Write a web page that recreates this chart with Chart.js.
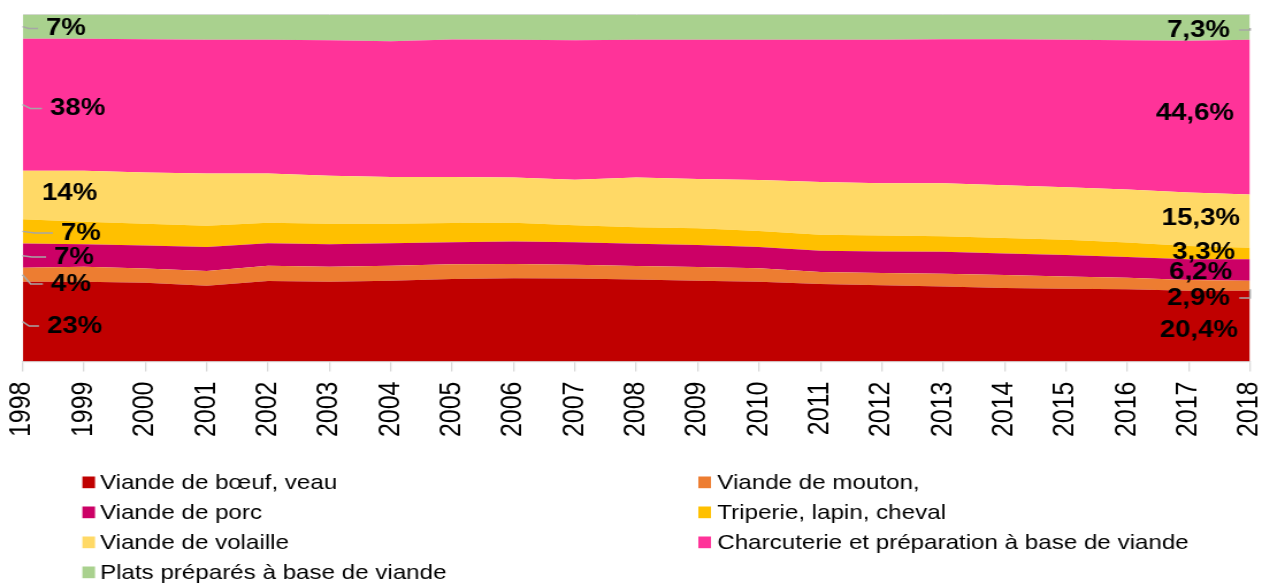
<!DOCTYPE html>
<html><head><meta charset="utf-8">
<script src="https://cdn.jsdelivr.net/npm/chart.js@4/dist/chart.umd.min.js"></script>
<style>html,body{margin:0;padding:0;background:#fff;overflow:hidden;width:1262px;height:583px}
#wrap{position:absolute;left:0;top:0;width:1097px;height:583px;transform:scaleX(1.150410);transform-origin:0 0}
#c{display:block}</style>
</head><body>
<div id="wrap"><canvas id="c" width="1097" height="583"></canvas></div>
<script>
// ---- data (shares in %) ----
const years = ['1998','1999','2000','2001','2002','2003','2004','2005','2006','2007','2008','2009','2010','2011','2012','2013','2014','2015','2016','2017','2018'];
const boeuf       = [23, 23.0, 22.7, 21.8, 23.2, 23.0, 23.3, 23.8, 24.0, 23.9, 23.6, 23.3, 23.0, 22.3, 22.0, 21.6, 21.2, 21.0, 20.8, 20.4, 20.4];
const mouton      = [4, 4.3, 4.1, 4.3, 4.4, 4.3, 4.3, 4.2, 4.1, 4.0, 3.9, 3.9, 3.9, 3.5, 3.5, 3.7, 3.7, 3.5, 3.3, 3.1, 2.9];
const porc        = [7, 6.5, 6.6, 6.9, 6.5, 6.5, 6.5, 6.4, 6.5, 6.5, 6.4, 6.4, 6.1, 6.1, 6.2, 6.3, 6.2, 6.2, 6.0, 6.0, 6.2];
const triperie    = [7, 6.5, 6.3, 6.1, 5.9, 5.9, 5.6, 5.5, 5.4, 4.9, 4.8, 4.8, 4.6, 4.6, 4.6, 4.5, 4.5, 4.4, 4.2, 3.8, 3.3];
const volaille    = [14, 14.7, 14.8, 15.1, 14.2, 13.8, 13.5, 13.3, 13.0, 13.1, 14.3, 14.2, 14.7, 15.2, 15.1, 15.3, 15.2, 15.1, 15.3, 15.4, 15.3];
const charcuterie = [38, 38.0, 38.4, 38.5, 38.5, 39.1, 39.1, 39.6, 39.7, 40.2, 39.7, 40.1, 40.4, 41.0, 41.3, 41.5, 42.1, 42.5, 43.0, 43.7, 44.6];
const plats       = [7, 7.1, 7.1, 7.3, 7.3, 7.4, 7.7, 7.2, 7.3, 7.4, 7.3, 7.3, 7.3, 7.3, 7.3, 7.1, 7.1, 7.3, 7.4, 7.6, 7.3];
const seriesNames = ['Viande de bœuf, veau','Viande de mouton,','Viande de porc','Triperie, lapin, cheval','Viande de volaille','Charcuterie et préparation à base de viande','Plats préparés à base de viande'];
const seriesData = [boeuf, mouton, porc, triperie, volaille, charcuterie, plats];

// ---- styles ----
const seriesColors = ['#C00000','#ED7D31','#CC0066','#FFC000','#FFD966','#FF3399','#A9D18E'];
const FONT = '"Liberation Sans", Arial, sans-serif';
const leftCfg  = [{dx:21.3,dy:4.4,leader:true},{dx:24.7,dy:9.3,leader:true},{dx:27.4,dy:1.4,leader:true},{dx:33.4,dy:1.6,leader:true},{dx:16.9,dy:-1.9,leader:false},{dx:23.9,dy:3.8,leader:true},{dx:20.4,dy:1.8,leader:true}];
const rightCfg = [{dx:-10.4,dy:4,leader:false},{dx:-17.4,dy:12.3,leader:true},{dx:-15.6,dy:2.6,leader:false},{dx:-13,dy:-1.4,leader:false},{dx:-8.7,dy:-3.2,leader:false},{dx:-13.9,dy:-4.2,leader:false},{dx:-17.4,dy:2.8,leader:true}];

const fmt = v => String(v).replace('.', ',') + '%';

const endLabels = {
  id:'endLabels',
  afterDatasetsDraw(chart){
    const ctx = chart.ctx, ys = chart.scales.y;
    const n = chart.data.labels.length;
    ctx.save();
    ctx.font = 'bold 24px ' + FONT;
    ctx.textBaseline = 'middle';
    ctx.strokeStyle = '#a6a6a6';
    ctx.lineWidth = 1.5;
    chart.data.datasets.forEach((ds, i) => {
      const meta = chart.getDatasetMeta(i);
      const prev = i > 0 ? chart.getDatasetMeta(i-1) : null;
      [[0, leftCfg[i], 'left'], [n-1, rightCfg[i], 'right']].forEach(([idx, cfg, side]) => {
        const pt = meta.data[idx];
        const bottom = prev ? prev.data[idx].y : ys.getPixelForValue(0);
        const cy = (pt.y + bottom) / 2;
        const x = pt.x;
        const ty = cy + cfg.dy;
        const tx = x + cfg.dx;
        if (cfg.leader) {
          ctx.beginPath();
          if (side === 'left') {
            const ex = tx - 7;
            ctx.moveTo(x, cy);
            ctx.lineTo(x + (ex - x) * 0.4, ty);
            ctx.lineTo(ex, ty);
          } else {
            const sx = tx + 8;
            ctx.moveTo(sx, ty);
            ctx.lineTo(x, ty);
            ctx.lineTo(x, cy + (ty - cy) * 0.3);
          }
          ctx.stroke();
        }
        ctx.fillStyle = '#000';
        ctx.textAlign = side === 'left' ? 'left' : 'right';
        ctx.fillText(fmt(ds.data[idx]), tx, ty);
      });
    });
    ctx.restore();
  }
};

const gridLegend = {
  id:'gridLegend',
  afterDraw(chart){
    const ctx = chart.ctx;
    ctx.save();
    ctx.font = '21px ' + FONT;
    ctx.textBaseline = 'middle';
    ctx.textAlign = 'left';
    const sqX = [71.6, 607], txX = [86.9, 623.5];
    chart.data.datasets.forEach((ds, i) => {
      const col = i % 2, row = Math.floor(i / 2);
      const cy = 482.5 + 30 * row;
      ctx.fillStyle = ds.backgroundColor;
      ctx.fillRect(sqX[col], cy - 6, 11, 11.7);
      ctx.fillStyle = '#000';
      ctx.fillText(ds.label, txX[col], cy + 1);
    });
    ctx.restore();
  }
};

new Chart(document.getElementById('c'), {
  type: 'line',
  data: {
    labels: years,
    datasets: seriesNames.map((name, i) => ({
      label: name,
      data: seriesData[i],
      backgroundColor: seriesColors[i],
      borderColor: 'rgba(0,0,0,0)',
      borderWidth: 0,
      fill: i === 0 ? 'origin' : '-1',
      pointRadius: 0,
      pointHoverRadius: 0,
      tension: 0
    }))
  },
  options: {
    responsive: false,
    animation: false,
    devicePixelRatio: 1,
    layout: { padding: { left: 19.6, right: 10.4, top: 14.5, bottom: 0 } },
    plugins: { legend: { display: false }, tooltip: { enabled: false } },
    scales: {
      x: {
        type: 'category',
        offset: false,
        grid: { drawOnChartArea: false, drawTicks: true, tickLength: 10, color: '#d9d9d9', lineWidth: 1.3 },
        border: { display: true, color: '#d9d9d9', width: 1.3 },
        ticks: { autoSkip: false, minRotation: 90, maxRotation: 90, padding: 10, color: '#000', font: { family: FONT, size: 25 } },
        afterFit(s) { s.height = 583 - 361.5; s.paddingLeft = 0; s.paddingRight = 0; }
      },
      y: {
        stacked: true,
        min: 0, max: 100,
        ticks: { display: false, stepSize: 100 },
        grid: { drawTicks: false, color: '#d9d9d9', lineWidth: 1 },
        border: { display: false },
        afterFit(s) { s.width = 0; }
      }
    }
  },
  plugins: [endLabels, gridLegend]
});
</script>
</body></html>
